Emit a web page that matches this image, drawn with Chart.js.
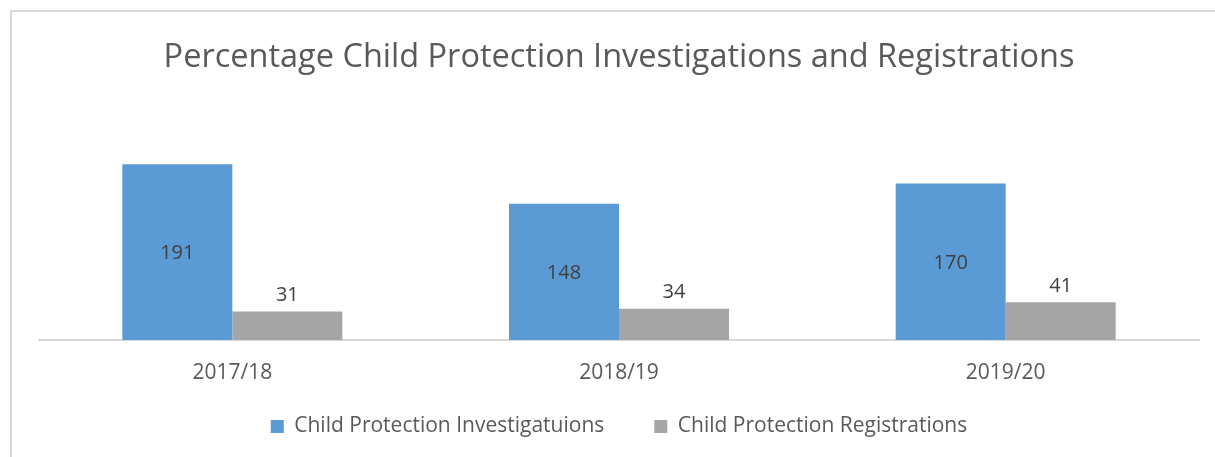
<!DOCTYPE html>
<html>
<head>
<meta charset="utf-8">
<script src="https://cdn.jsdelivr.net/npm/chart.js@4"></script>
<style>
  html, body { margin: 0; padding: 0; background: #fff; }
  #wrap { position: relative; width: 1215px; height: 457px; }
  #frame { position: absolute; left: 10px; top: 10px; right: -5px; bottom: -5px;
           border-left: 2px solid #d9d9d9; border-top: 2px solid #d9d9d9; }
  canvas { position: absolute; left: 0; top: 0; }
</style>
</head>
<body>
<div id="wrap">
  <div id="frame"></div>
  <canvas id="myChart" width="1215" height="457"></canvas>
</div>
<script>
const years = ['2017/18', '2018/19', '2019/20'];
const investigations = [191, 148, 170];
const registrations = [31, 34, 41];
const seriesNames = ['Child Protection Investigatuions', 'Child Protection Registrations'];

const FONT = 'Open Sans';

// labels: blue ones sit in the middle of the bar, grey ones above it
const barLabels = {
    id: 'barLabels',
    afterLayout(chart) {
        // x axis is squeezed so the legend can sit close, don't clip its labels
        chart.scales.x._computeLabelArea = function () { return undefined; };
    },
    afterDatasetsDraw(chart) {
        const ctx = chart.ctx;
        ctx.save();
        ctx.font = '20px "' + FONT + '"';
        ctx.fillStyle = '#404040';
        ctx.textAlign = 'center';
        ctx.textBaseline = 'middle';
        chart.data.datasets.forEach(function (ds, i) {
            chart.getDatasetMeta(i).data.forEach(function (bar, j) {
                let y;
                if (i == 0) {
                    y = (bar.y + bar.base) / 2 + 1;
                } else {
                    y = bar.y - 16;
                }
                ctx.fillText(ds.data[j], bar.x, y);
            });
        });
        ctx.restore();
    }
};

const ctx = document.getElementById('myChart').getContext('2d');
const myChart = new Chart(ctx, {
    type: 'bar',
    data: {
        labels: years,
        datasets: [{
            label: seriesNames[0],
            data: investigations,
            backgroundColor: '#5B9BD5',
            categoryPercentage: 0.569,
            barPercentage: 1
        }, {
            label: seriesNames[1],
            data: registrations,
            backgroundColor: '#A5A5A5',
            categoryPercentage: 0.569,
            barPercentage: 1
        }]
    },
    options: {
        responsive: false,
        animation: false,
        layout: { padding: { left: 39, right: 16, top: 0, bottom: 10 } },
        plugins: {
            title: {
                display: true,
                text: 'Percentage Child Protection Investigations and Registrations',
                color: '#595959',
                font: { family: FONT, size: 32.5, weight: 'normal' },
                padding: { top: 38.5, bottom: 32.5 }
            },
            legend: {
                position: 'bottom',
                labels: {
                    color: '#595959',
                    font: { family: FONT, size: 21 },
                    boxWidth: 13,
                    boxHeight: 13,
                    padding: 50
                }
            },
            tooltip: { enabled: false }
        },
        scales: {
            x: {
                grid: { display: false, drawTicks: false },
                border: { color: '#d9d9d9', width: 2 },
                ticks: { color: '#595959', font: { family: FONT, size: 21 }, padding: 20 },
                afterFit: function (scale) { scale.height = 26; }
            },
            y: {
                display: false,
                min: 0,
                max: 250
            }
        }
    },
    plugins: [barLabels]
});
</script>
</body>
</html>
